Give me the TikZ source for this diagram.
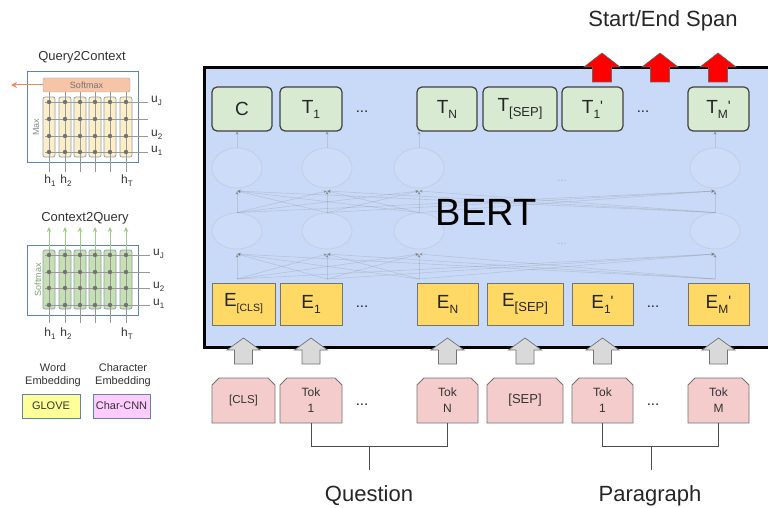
\documentclass[tikz,border=0pt]{standalone}
\usepackage{fontspec}
\setmainfont{Liberation Sans}
\usetikzlibrary{arrows.meta,shapes.geometric,calc}
\definecolor{bertbg}{HTML}{C9DAF8}
\definecolor{tgreen}{HTML}{D9EAD3}
\definecolor{eyellow}{HTML}{FFD966}
\definecolor{tokpink}{HTML}{F4CCCC}
\definecolor{panelblue}{HTML}{5F83AA}
\definecolor{colyellow}{HTML}{FCEFC7}
\definecolor{colgreen}{HTML}{C6E0B4}
\definecolor{smaxfill}{HTML}{F6C4A6}
\definecolor{orangearr}{HTML}{EE8A5E}
\definecolor{greenarr}{HTML}{9DCC86}
\definecolor{glove}{HTML}{FFFF99}
\definecolor{charcnn}{HTML}{FFCCFF}
\definecolor{txt}{HTML}{333333}
\newcommand\mysub[2][12]{\raisebox{-5pt}{\fontsize{#1}{#1}\selectfont #2}}
\newcommand\myprime{\raisebox{2pt}{\fontsize{15}{15}\selectfont\textquotesingle}}
\newcommand\lsub[1]{\raisebox{-3pt}{\fontsize{8}{8}\selectfont #1}}
\begin{document}
\begin{tikzpicture}[x=1pt,y=-1pt,
  tbox/.style={draw=black!75, fill=tgreen, rounded corners=5pt, line width=1.2pt, minimum height=44pt, inner sep=0pt, font=\fontsize{19}{22}\selectfont, text=black!85},
  ebox/.style={draw=black!55, fill=eyellow, line width=0.9pt, minimum height=42pt, inner sep=0pt, font=\fontsize{19}{22}\selectfont, text=black!85},
  toktext/.style={inner sep=0pt, minimum height=45pt, align=center, font=\fontsize{12}{16}\selectfont, text=txt},
  tokline/.style={draw=black!55, fill=tokpink, line width=0.9pt},
  dotsn/.style={font=\fontsize{15}{15}\selectfont, text=black!85},
  faint/.style={draw=gray, draw opacity=0.25, line width=0.6pt},
  fainta/.style={faint, -{Stealth[length=4pt,width=3.5pt]}},
  neuron/.style={ellipse, draw=gray!70, draw opacity=0.22, fill=white, fill opacity=0.08, line width=0.9pt, inner sep=0pt},
  redarrow/.style={fill=red, draw=black!60, line width=0.6pt, line join=miter},
  greyarrow/.style={fill=black!15, draw=black!55, line width=0.7pt},
  bracket/.style={draw=black!70, line width=0.9pt},
  biglabel/.style={font=\fontsize{22}{24}\selectfont, text=black!85},
  ptitle/.style={font=\fontsize{13}{15}\selectfont, text=txt},
  panel/.style={draw=panelblue, line width=1pt},
  grid/.style={draw=black!40, line width=0.8pt},
  gdot/.style={circle, fill=black!55, inner sep=0pt, minimum size=4.4pt},
  lab/.style={font=\fontsize{12}{12}\selectfont, text=txt, inner sep=1pt},
  small/.style={font=\fontsize{11}{13}\selectfont, text=txt, align=center}
]
\useasboundingbox (0,0) rectangle (768,508);
\clip (0,0) rectangle (768,508);
\fill[white] (0,0) rectangle (768,508);

%% ---------------- BERT box ----------------
\draw[line width=3pt, fill=bertbg] (204,68) rectangle (800,347);

% hidden network: coordinates per column
\foreach \i/\x in {0/237,1/327,2/419,3/715}{
  \node[neuron, minimum width=50pt, minimum height=40pt] (up\i) at (\x,168) {};
  \node[neuron, minimum width=50pt, minimum height=36pt] (lo\i) at (\x,231) {};
  \coordinate (base\i) at (\x,279);
  \coordinate (lotip\i) at (\x,254);
  \coordinate (uptip\i) at (\x,191);
  \coordinate (ttip\i) at (\x,131);
}
\foreach \i in {0,1,2,3}{
  \foreach \j in {0,1,2,3}{
    \draw[fainta] (base\i) -- (lotip\j);
    \draw[fainta] (lo\i.north) -- (uptip\j);
  }
  \draw[fainta] (up\i.north) -- (ttip\i);
}
\node[font=\fontsize{12}{12}\selectfont, text=gray, opacity=0.35] (fd1) at (562,181) {...};
\node[font=\fontsize{12}{12}\selectfont, text=gray, opacity=0.35] (fd2) at (562,244) {...};

\node[font=\fontsize{38}{40}\selectfont, text=black] (bert) at (486,212) {BERT};

% top T boxes
\node[tbox, minimum width=60pt] (tC) at (242,109) {C};
\node[tbox, minimum width=62pt] (t1) at (311,109) {T\mysub{1}};
\node[dotsn] (td1) at (362,112) {...};
\node[tbox, minimum width=60pt] (tN) at (447,109) {T\mysub{N}};
\node[tbox, minimum width=74pt] (tSEP) at (520,109) {T\mysub[13]{[SEP]}};
\node[tbox, minimum width=61pt] (t1p) at (592.5,109) {T\mysub{1}\myprime};
\node[dotsn] (td2) at (643,112) {...};
\node[tbox, minimum width=61pt] (tMp) at (718.5,109) {T\mysub{M}\myprime};

% E boxes
\node[ebox, minimum width=63pt] (eCLS) at (243.5,304) {E\mysub[10.5]{[CLS]}};
\node[ebox, minimum width=62pt] (e1) at (311,304) {E\mysub{1}};
\node[dotsn] (ed1) at (362,307) {...};
\node[ebox, minimum width=61pt] (eN) at (447.5,304) {E\mysub{N}};
\node[ebox, minimum width=76pt] (eSEP) at (525,304) {E\mysub[13]{[SEP]}};
\node[ebox, minimum width=61pt] (e1p) at (602.5,304) {E\mysub{1}\myprime};
\node[dotsn] (ed2) at (653,307) {...};
\node[ebox, minimum width=61pt] (eMp) at (718.5,304) {E\mysub{M}\myprime};

% red output arrows
\foreach \x in {602,660,718}{
  \filldraw[redarrow] (\x,53) -- (\x+18,67) -- (\x+9.5,67) -- (\x+9.5,82) -- (\x-9.5,82) -- (\x-9.5,67) -- (\x-18,67) -- cycle;
}
\node[biglabel] (span) at (663,21) {Start/End Span};

% token boxes
\foreach \n/\x/\w/\t in {kCLS/243.5/63/{\fontsize{11.5}{13}\selectfont[CLS]},
                        k1/311/62/{Tok\\1},
                        kN/447.5/61/{Tok\\N},
                        kSEP/525/76/{\fontsize{13}{15}\selectfont[SEP]},
                        k1p/602.5/61/{Tok\\1},
                        kMp/718.5/61/{Tok\\M}}{
  \filldraw[tokline] (\x-\w/2,423) -- (\x-\w/2,385) -- (\x-\w/2+7,378) -- (\x+\w/2-7,378) -- (\x+\w/2,385) -- (\x+\w/2,423) -- cycle;
  \node[toktext, minimum width=\w pt] (\n) at (\x,400.5) {\t};
}
\node[dotsn] (kd1) at (362,405) {...};
\node[dotsn] (kd2) at (653,405) {...};

% grey input arrows
\foreach \x in {243.5,311,447.5,525,602.5,718.5}{
  \filldraw[greyarrow] (\x,338) -- (\x+16.5,350) -- (\x+9,350) -- (\x+9,364) -- (\x-9,364) -- (\x-9,350) -- (\x-16.5,350) -- cycle;
}

% brackets and labels
\node[biglabel] (question) at (369,496) {Question};
\node[biglabel] (paragraph) at (650,496) {Paragraph};
\coordinate (qstem) at (369,470);
\coordinate (pstem) at (651,470);
\draw[bracket] (k1.south) -- ++(0,23) -| (kN.south);
\draw[bracket] (qstem) -- (qstem |- 0,446);
\draw[bracket] (k1p.south) -- ++(0,23) -| (kMp.south);
\draw[bracket] (pstem) -- (pstem |- 0,446);

%% ---------------- left panel: Query2Context ----------------
\node[ptitle] (q2c) at (82,57) {Query2Context};
\draw[panel] (27,72) rectangle (138,162);
\foreach \x in {49,65,80,95,110,126}{
  \filldraw[fill=colyellow, draw=black!30!panelblue!60, line width=0.7pt, rounded corners=2pt] (\x-6,97) rectangle (\x+6,157);
}
\node[draw=black!35, fill=smaxfill, rounded corners=1.5pt, minimum width=87pt, minimum height=14pt, inner sep=0pt, font=\fontsize{9}{9}\selectfont, text=black!55] (smax) at (86.5,85) {Softmax};
\coordinate (q2cout) at (11,85);
\draw[draw=orangearr, line width=1pt, -{Stealth[length=6pt,width=6pt]}] (smax.west) -- (q2cout);
\foreach \x in {49,65,80,95,110,126}{ \draw[grid] (\x,92) -- (\x,172); }
\foreach \y in {102,119,136,152}{
  \draw[grid] (45,\y) -- (148,\y);
  \foreach \x in {49,65,80,95,110,126}{ \node[gdot] at (\x,\y) {}; }
}
\node[lab, anchor=west] (quJ) at (150,101) {u\lsub{J}};
\node[lab, anchor=west] (qu2) at (150,135) {u\lsub{2}};
\node[lab, anchor=west] (qu1) at (150,151) {u\lsub{1}};
\node[lab] (qh1) at (50,181) {h\lsub{1}};
\node[lab] (qh2) at (66,181) {h\lsub{2}};
\node[lab] (qhT) at (127,181) {h\lsub{T}};
\node[rotate=90, font=\fontsize{9}{9}\selectfont, text=black!45] (qmax) at (36,127) {Max};

%% ---------------- left panel: Context2Query ----------------
\node[ptitle] (c2q) at (85,218) {Context2Query};
\draw[panel] (27,245) rectangle (138,315);
\foreach \x in {49,65,80,95,110,126}{
  \filldraw[fill=colgreen, draw=black!30!panelblue!60, line width=0.7pt, rounded corners=2pt] (\x-6,250) rectangle (\x+6,309);
  \draw[grid] (\x,250) -- (\x,323);
  \draw[draw=greenarr, line width=1pt, -{Stealth[length=5pt,width=4.5pt]}] (\x,250) -- (\x,227);
}
\foreach \y in {255,272,288,305}{
  \draw[grid] (45,\y) -- (150,\y);
  \foreach \x in {49,65,80,95,110,126}{ \node[gdot] at (\x,\y) {}; }
}
\node[lab, anchor=west] (cuJ) at (152,254) {u\lsub{J}};
\node[lab, anchor=west] (cu2) at (152,287) {u\lsub{2}};
\node[lab, anchor=west] (cu1) at (152,304) {u\lsub{1}};
\node[lab] (ch1) at (50,334) {h\lsub{1}};
\node[lab] (ch2) at (66,334) {h\lsub{2}};
\node[lab] (chT) at (127,334) {h\lsub{T}};
\node[rotate=90, font=\fontsize{9}{9}\selectfont, text=greenarr!80!black] (csmax) at (38,280) {Softmax};

%% ---------------- embeddings legend ----------------
\node[small] (wordemb) at (53,375) {Word\\Embedding};
\node[small] (charemb) at (123,375) {Character\\Embedding};
\node[draw=panelblue, fill=glove, line width=1pt, minimum width=58pt, minimum height=24pt, inner sep=0pt, font=\fontsize{11}{11}\selectfont, text=txt] (glove) at (51,406) {GLOVE};
\node[draw=panelblue, fill=charcnn, line width=1pt, minimum width=57pt, minimum height=24pt, inner sep=0pt, font=\fontsize{11}{11}\selectfont, text=txt] (ccnn) at (121.5,406) {Char-CNN};
\end{tikzpicture}
\end{document}
